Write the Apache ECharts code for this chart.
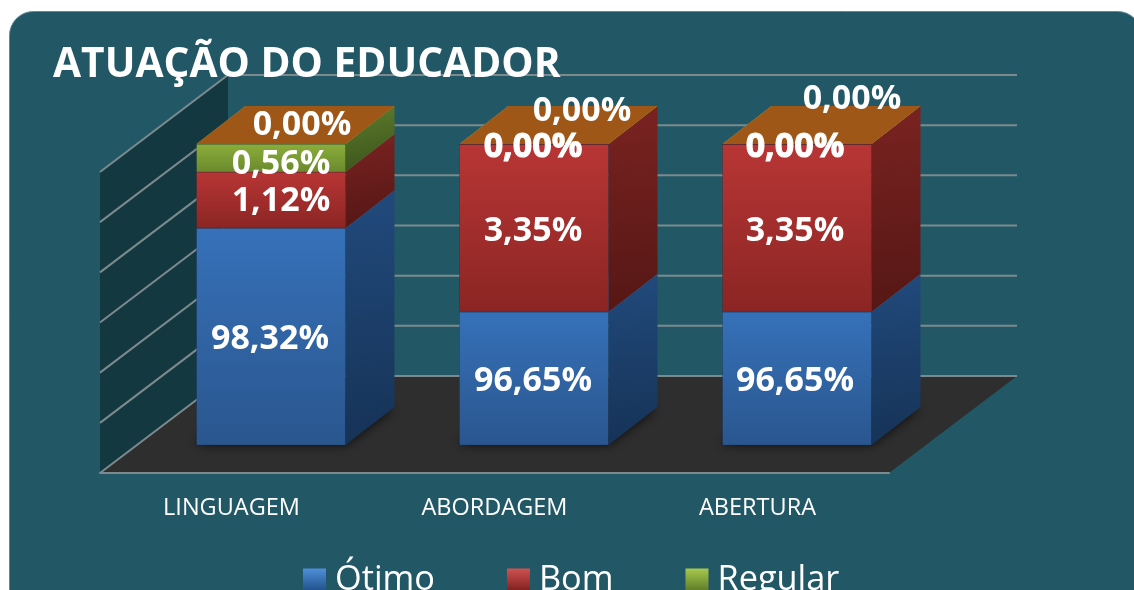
<!DOCTYPE html>
<html><head><meta charset="utf-8">
<style>html,body{margin:0;padding:0;background:#fff;overflow:hidden}#c{width:1134px;height:590px}</style>
<script src="https://cdn.jsdelivr.net/npm/echarts@6/dist/echarts.min.js"></script>
</head><body><div id="c"></div>
<script>
const categories = ['LINGUAGEM', 'ABORDAGEM', 'ABERTURA'];
const otimo = [98.32, 96.65, 96.65];
const bom = [1.12, 3.35, 3.35];
const regular = [0.56, 0, 0];
const outro = [0, 0, 0];
const yTicks = [94, 95, 96, 97, 98, 99, 100];
const titleText = 'ATUAÇÃO DO EDUCADOR';

const FONT = '"Open Sans", "Noto Sans", sans-serif';
const BG = '#225866';
const WALL = '#143840';
const FLOOR = '#2e2e2e';
const GRIDLINE = '#7c8a8e';
const FD = [128, 97];   // depth of the floor
const BD = [49, 38];    // depth of a bar
const BAR_SHIFT = [39.5, 28]; // front plane of the bars relative to the front of the floor
const BAR_RATIO = 0.5665;
const grad = (a, b, diag) => new echarts.graphic.LinearGradient(0, 0, diag ? 0.3 : 0, 1, [{offset:0,color:a},{offset:1,color:b}]);

const palette = [
  {front:['#3671b9','#2a568e'], side:['#214a7c','#163357'], top:'#3f7ec6', legend:['#4f8fd8','#1f4f8a']},
  {front:['#b83635','#8a2523'], side:['#7a2321','#551715'], top:'#c44543', legend:['#d05250','#7d1f1d']},
  {front:['#8cae3b','#69892d'], side:['#5d7d2d','#3d551c'], top:'#9cbd48', legend:['#a7c94f','#5c7a26']},
  {front:['#b5651d','#9a5515'], side:['#7a4310','#5c320a'], top:'#9e5717', legend:['#c8782a','#8a4c12']}
];
const seriesArrays = [otimo, bom, regular, outro];
const seriesNames = ['Ótimo', 'Bom', 'Regular', 'Outro'];
// offset of each label from the centre of its front face: [series][category]
const labelOffsets = [
  [[-1, 3], [-1, 3], [-2, 3]],
  [[10, 1], [-1, 3], [-2, 3]],
  [[10, 6], [-1, 3], [-2, 3]],
  [[31, -19], [48, -33], [55, -45]]
];
const boldLabel = [[0,0,0],[0,0,0],[0,1,1],[0,0,0]];

// cumulative stack for every segment
const segments = seriesArrays.map(arr => []);
categories.forEach((c, i) => {
  let base = 0;
  seriesArrays.forEach((arr, s) => {
    segments[s].push([i, base, base + arr[i], arr[i]]);
    base += arr[i];
  });
});

function faces(s) {
  return function (params, api) {
    const i = api.value(0), v0 = Math.max(api.value(1), 94), v1 = api.value(2);
    const band = api.size([1, 0])[0];
    const w = band * BAR_RATIO;
    const c = api.coord([i, 94]);
    const x1 = c[0] - w / 2 + BAR_SHIFT[0], x2 = x1 + w;
    const y0 = api.coord([i, v0])[1] - BAR_SHIFT[1], y1 = api.coord([i, v1])[1] - BAR_SHIFT[1];
    const kids = [];
    if (s === 0) {
      kids.push({type:'polygon', shape:{points:[[x1-2,y0-1],[x2,y0-1],[x2+BD[0],y0-BD[1]],[x1+BD[0],y0-BD[1]]]},
        style:{fill:'#1c1c1c', shadowBlur:12, shadowColor:'rgba(0,0,0,0.85)'}});
    }
    const p = palette[s];
    kids.push({type:'polygon', shape:{points:[[x2,y0],[x2,y1],[x2+BD[0],y1-BD[1]],[x2+BD[0],y0-BD[1]]]},
      style:{fill:grad(p.side[0], p.side[1], true)}});
    kids.push({type:'rect', shape:{x:x1,y:y1,width:w,height:y0-y1},
      style:{fill:grad(p.front[0], p.front[1]), stroke:'rgba(20,30,50,0.25)', lineWidth:1}});
    kids.push({type:'polygon', shape:{points:[[x1,y1],[x2,y1],[x2+BD[0],y1-BD[1]],[x1+BD[0],y1-BD[1]]]},
      style:{fill:p.top}});
    return {type:'group', children:kids};
  };
}

const barSeries = seriesNames.map((name, s) => ({
  type:'custom', name, coordinateSystem:'cartesian2d', z:10 + s, silent:true,
  itemStyle:{color:grad(palette[s].legend[0], palette[s].legend[1])},
  encode:{x:0, y:[1,2]},
  data:segments[s],
  renderItem:faces(s)
}));

const labelSeries = seriesNames.map((name, s) => ({
  type:'custom', name:name + ' rótulo', coordinateSystem:'cartesian2d', z:30, silent:true,
  encode:{x:0, y:[1,2]},
  data:segments[s],
  renderItem(params, api) {
    const i = api.value(0), v0 = Math.max(api.value(1), 94), v1 = api.value(2);
    const c = api.coord([i, (v0 + v1) / 2]);
    const off = labelOffsets[s][i];
    const bold = boldLabel[s][i];
    return {type:'text', style:{
      x:c[0] + BAR_SHIFT[0] + off[0], y:c[1] - BAR_SHIFT[1] + off[1],
      text:api.value(3).toFixed(2).replace('.', ',') + '%',
      fill:'#fff', font:'bold 34px ' + FONT, align:'center', verticalAlign:'middle',
      stroke: bold ? '#fff' : null, lineWidth: bold ? 1 : 0
    }};
  }
}));

const scaffold = {
  type:'custom', name:'parede', coordinateSystem:'cartesian2d', z:2, silent:true,
  encode:{x:0, y:1},
  data:yTicks.map(v => [0, v]),
  renderItem(params, api) {
    const g = params.coordSys, v = api.value(1), y = api.coord([0, v])[1];
    const L = g.x, R = g.x + g.width, T = g.y, B = g.y + g.height;
    const kids = [];
    if (params.dataIndex === 0) {
      kids.push({type:'polygon', shape:{points:[[L,B],[L,T],[L+FD[0],T-FD[1]],[L+FD[0],B-FD[1]]]}, style:{fill:WALL}});
      kids.push({type:'polygon', shape:{points:[[L,B],[R,B],[R+FD[0],B-FD[1]],[L+FD[0],B-FD[1]]]}, style:{fill:FLOOR}});
    }
    kids.push({type:'polyline', shape:{points:[[L,y],[L+FD[0],y-FD[1]],[R+FD[0],y-FD[1]]]},
      style:{stroke:GRIDLINE, lineWidth:2, fill:null}});
    return {type:'group', children:kids};
  }
};

const chart = echarts.init(document.getElementById('c'), null, {renderer:'canvas'});
chart.setOption({
  animation:false,
  backgroundColor:'#fff',
  graphic:[{type:'rect', z:-10, silent:true,
    shape:{x:9.5, y:11.5, width:1132, height:700, r:24},
    style:{fill:BG, stroke:'#5f8a94', lineWidth:1}}],
  title:{text:titleText, left:53, top:45, z:40, padding:0,
    textStyle:{color:'#fff', fontFamily:FONT, fontWeight:'bold', fontSize:40.7}},
  legend:{data:seriesNames.slice(0, 3), icon:'rect', left:303, top:563, itemWidth:23, itemHeight:23, itemGap:72, padding:0,
    textStyle:{color:'#fff', fontFamily:FONT, fontSize:34.3, padding:[0,0,6,4]}, selectedMode:false},
  grid:{left:100, top:172, width:789, height:301},
  xAxis:{type:'category', data:categories, axisTick:{show:false},
    axisLine:{show:true, lineStyle:{color:GRIDLINE, width:2}},
    axisLabel:{color:'#fff', fontFamily:FONT, fontSize:23.5, margin:23}, z:5},
  yAxis:{type:'value', min:94, max:100, interval:1, show:false},
  series:[scaffold, ...barSeries, ...labelSeries]
});
</script></body></html>
